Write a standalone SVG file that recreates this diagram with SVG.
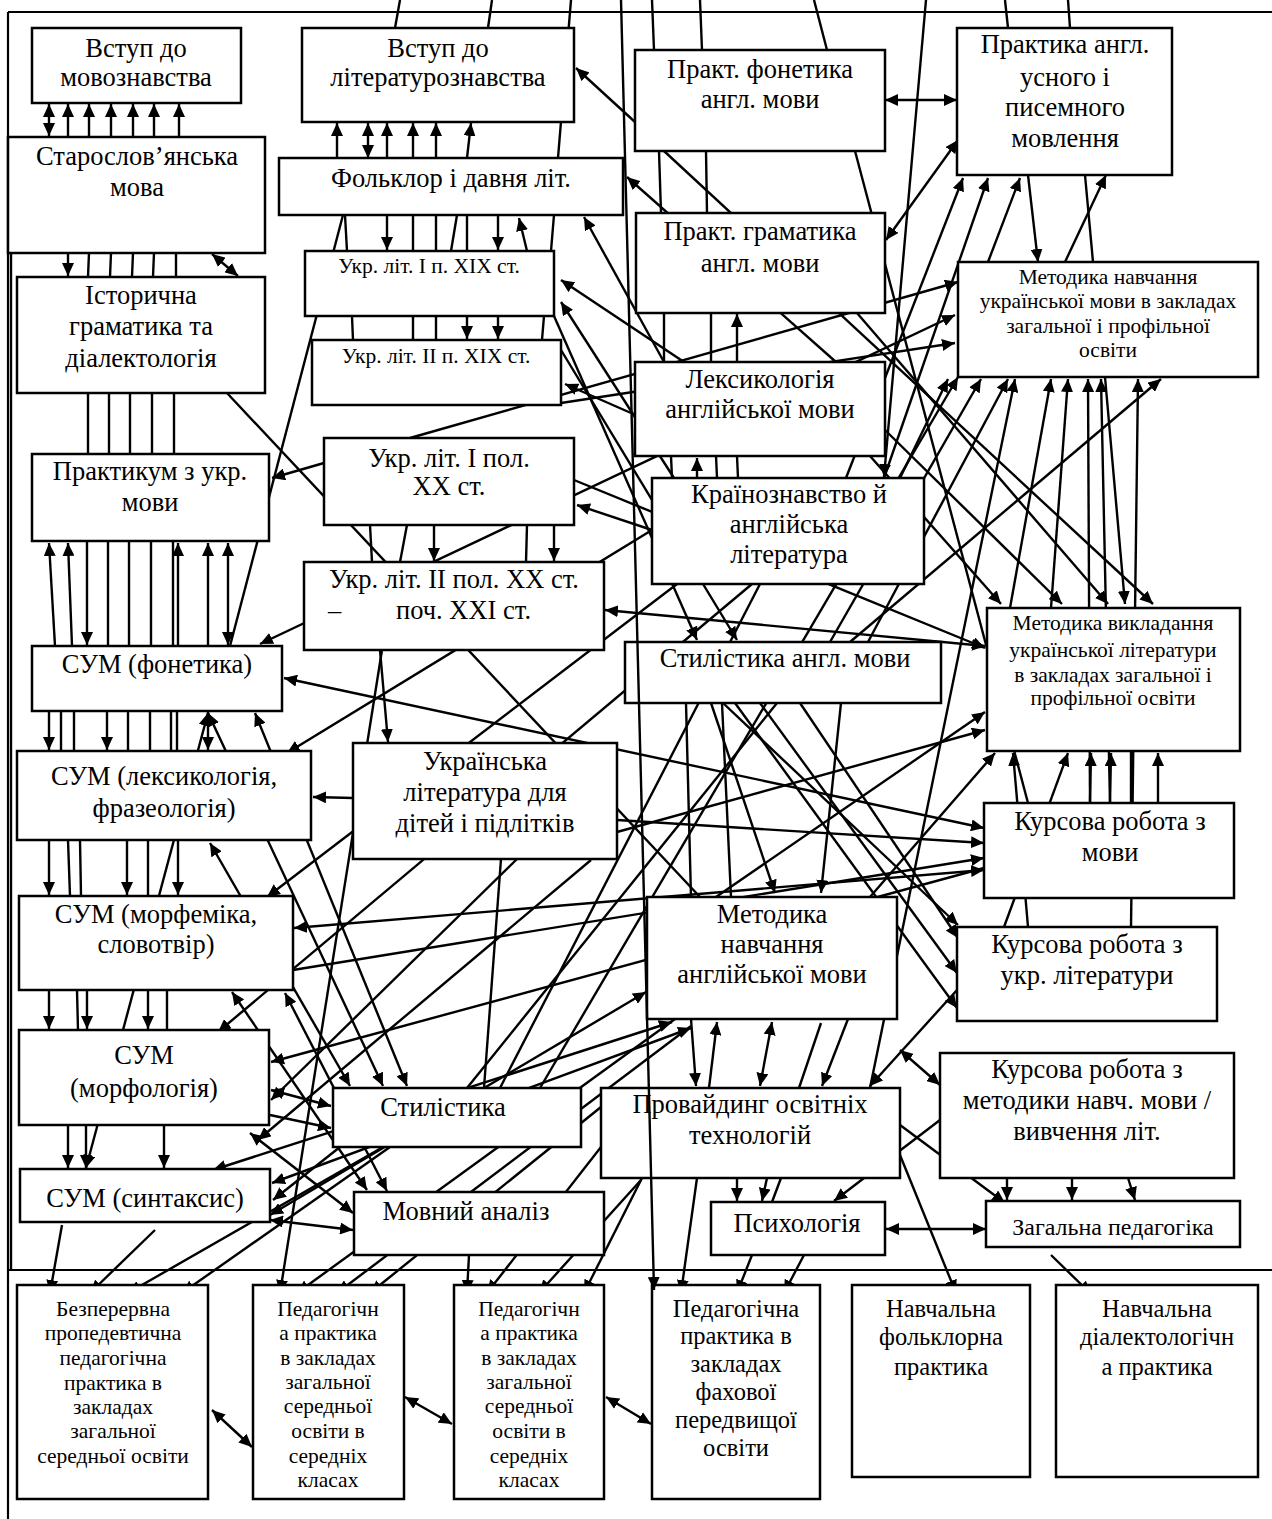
<svg xmlns="http://www.w3.org/2000/svg" width="1272" height="1519" viewBox="0 0 1272 1519">
<style>
.n rect{fill:#fff;stroke:#000;stroke-width:2.5}
text{font-family:"Liberation Serif","Times New Roman","DejaVu Serif",serif;fill:#000;text-anchor:middle}
.t{font-size:26.5px}
.s{font-size:21.5px}
.m{font-size:24.5px}
.g{font-size:24px}
.c line{stroke:#000;stroke-width:2.4;fill:none}
.e{marker-end:url(#ah)}
.b{marker-start:url(#ah);marker-end:url(#ah)}
.f line{stroke:#000;stroke-width:2.2}
</style>
<defs>
<marker id="ah" viewBox="0 0 13 12" refX="13" refY="6" markerWidth="13" markerHeight="12" markerUnits="userSpaceOnUse" orient="auto-start-reverse"><path d="M0,0 L13,6 L0,12 z" fill="#000"/></marker>
</defs>
<rect width="1272" height="1519" fill="#fff"/>
<g id="frame" class="f">
<line x1="8" y1="12" x2="1272" y2="12"/>
<line x1="8" y1="12" x2="8" y2="1519"/>
<line x1="8" y1="1270" x2="1272" y2="1270"/>
</g>
<g id="connectors" class="c">
<line x1="49" y1="104" x2="49" y2="136" class="b"/>
<line x1="68" y1="137" x2="68" y2="104" class="e"/>
<line x1="89" y1="137" x2="89" y2="104" class="e"/>
<line x1="111" y1="137" x2="111" y2="104" class="e"/>
<line x1="133" y1="137" x2="133" y2="104" class="e"/>
<line x1="154" y1="137" x2="154" y2="104" class="e"/>
<line x1="179" y1="137" x2="179" y2="104" class="e"/>
<line x1="68" y1="253" x2="68" y2="276" class="e"/>
<line x1="89" y1="253" x2="88" y2="277"/>
<line x1="111" y1="253" x2="110" y2="277"/>
<line x1="133" y1="253" x2="132" y2="277"/>
<line x1="154" y1="253" x2="153" y2="277"/>
<line x1="176" y1="253" x2="176" y2="277"/>
<line x1="212" y1="254" x2="238" y2="276" class="b"/>
<line x1="88" y1="393" x2="88" y2="454"/>
<line x1="109" y1="393" x2="109" y2="454"/>
<line x1="130" y1="393" x2="130" y2="454"/>
<line x1="152" y1="393" x2="152" y2="454"/>
<line x1="174" y1="393" x2="174" y2="454"/>
<line x1="55" y1="646" x2="49" y2="543" class="e"/>
<line x1="72" y1="646" x2="68" y2="543" class="e"/>
<line x1="87" y1="541" x2="87" y2="645" class="e"/>
<line x1="108" y1="541" x2="108" y2="646"/>
<line x1="129" y1="541" x2="129" y2="646"/>
<line x1="151" y1="541" x2="151" y2="646"/>
<line x1="173" y1="541" x2="173" y2="646"/>
<line x1="178" y1="646" x2="178" y2="543" class="e"/>
<line x1="208" y1="646" x2="208" y2="543" class="e"/>
<line x1="228" y1="543" x2="228" y2="645" class="b"/>
<line x1="49" y1="711" x2="49" y2="750" class="e"/>
<line x1="61" y1="711" x2="61" y2="751"/>
<line x1="74" y1="711" x2="74" y2="751"/>
<line x1="107" y1="711" x2="107" y2="750" class="e"/>
<line x1="128" y1="711" x2="128" y2="751"/>
<line x1="150" y1="711" x2="150" y2="751"/>
<line x1="171" y1="711" x2="171" y2="751"/>
<line x1="177" y1="711" x2="177" y2="751"/>
<line x1="208" y1="711" x2="208" y2="750" class="e"/>
<line x1="49" y1="840" x2="49" y2="895" class="e"/>
<line x1="68" y1="840" x2="70" y2="896"/>
<line x1="80" y1="840" x2="81" y2="896"/>
<line x1="127" y1="840" x2="127" y2="895" class="e"/>
<line x1="148" y1="840" x2="148" y2="896"/>
<line x1="178" y1="840" x2="178" y2="895" class="e"/>
<line x1="49" y1="990" x2="49" y2="1029" class="e"/>
<line x1="77" y1="990" x2="78" y2="1030"/>
<line x1="87" y1="990" x2="87" y2="1029" class="e"/>
<line x1="148" y1="990" x2="148" y2="1029" class="e"/>
<line x1="167" y1="990" x2="167" y2="1030"/>
<line x1="68" y1="1125" x2="68" y2="1168" class="e"/>
<line x1="86" y1="1125" x2="86" y2="1168" class="e"/>
<line x1="164" y1="1125" x2="164" y2="1168" class="e"/>
<line x1="62" y1="1225" x2="50" y2="1293" class="e"/>
<line x1="155" y1="1230" x2="90" y2="1293" class="e"/>
<line x1="11" y1="253" x2="11" y2="1270"/>
<line x1="343" y1="215" x2="230" y2="646"/>
<line x1="324" y1="463" x2="272" y2="478" class="e"/>
<line x1="227" y1="393" x2="700" y2="897"/>
<line x1="955" y1="315" x2="260" y2="644" class="b"/>
<line x1="208" y1="713" x2="86" y2="1168" class="b"/>
<line x1="208" y1="713" x2="383" y2="1086" class="b"/>
<line x1="255" y1="713" x2="407" y2="1086" class="b"/>
<line x1="210" y1="843" x2="350" y2="1086" class="b"/>
<line x1="353" y1="798" x2="313" y2="797" class="e"/>
<line x1="677" y1="584" x2="267" y2="897" class="e"/>
<line x1="652" y1="530" x2="287" y2="753" class="e"/>
<line x1="652" y1="530" x2="577" y2="505" class="e"/>
<line x1="984" y1="870" x2="294" y2="928" class="b"/>
<line x1="232" y1="992" x2="367" y2="1190" class="b"/>
<line x1="285" y1="993" x2="387" y2="1191" class="b"/>
<line x1="752" y1="584" x2="218" y2="1032" class="e"/>
<line x1="984" y1="868" x2="271" y2="1062" class="e"/>
<line x1="270" y1="1215" x2="646" y2="992" class="b"/>
<line x1="213" y1="1170" x2="672" y2="1022" class="b"/>
<line x1="272" y1="1183" x2="691" y2="1028" class="b"/>
<line x1="284" y1="678" x2="984" y2="828" class="b"/>
<line x1="382" y1="650" x2="280" y2="1293" class="e"/>
<line x1="380" y1="650" x2="388" y2="742" class="e"/>
<line x1="605" y1="610" x2="985" y2="646" class="b"/>
<line x1="574" y1="480" x2="985" y2="648" class="e"/>
<line x1="395" y1="28" x2="400" y2="0"/>
<line x1="488" y1="28" x2="492" y2="0"/>
<line x1="558" y1="158" x2="571" y2="0"/>
<line x1="654" y1="50" x2="652" y2="0"/>
<line x1="702" y1="50" x2="700" y2="0"/>
<line x1="827" y1="50" x2="814" y2="0"/>
<line x1="926" y1="0" x2="884" y2="477" class="e"/>
<line x1="1008" y1="28" x2="1005" y2="0"/>
<line x1="1070" y1="28" x2="1068" y2="0"/>
<line x1="337" y1="158" x2="337" y2="123" class="e"/>
<line x1="368" y1="158" x2="368" y2="123" class="b"/>
<line x1="387" y1="158" x2="387" y2="123" class="e"/>
<line x1="413" y1="158" x2="413" y2="123" class="e"/>
<line x1="436" y1="158" x2="436" y2="123" class="e"/>
<line x1="467" y1="158" x2="471" y2="123" class="e"/>
<line x1="635" y1="122" x2="576" y2="68" class="e"/>
<line x1="885" y1="100" x2="957" y2="100" class="b"/>
<line x1="836" y1="362" x2="627" y2="177" class="e"/>
<line x1="527" y1="251" x2="519" y2="218" class="e"/>
<line x1="664" y1="362" x2="584" y2="217" class="e"/>
<line x1="387" y1="215" x2="387" y2="250" class="e"/>
<line x1="498" y1="215" x2="498" y2="250" class="e"/>
<line x1="345" y1="215" x2="347" y2="251"/>
<line x1="413" y1="215" x2="413" y2="251"/>
<line x1="436" y1="215" x2="436" y2="251"/>
<line x1="457" y1="215" x2="451" y2="251"/>
<line x1="467" y1="215" x2="467" y2="251"/>
<line x1="554" y1="215" x2="551" y2="251"/>
<line x1="684" y1="362" x2="561" y2="280" class="e"/>
<line x1="674" y1="478" x2="561" y2="302" class="e"/>
<line x1="352" y1="316" x2="353" y2="340"/>
<line x1="413" y1="316" x2="413" y2="340"/>
<line x1="436" y1="316" x2="436" y2="340"/>
<line x1="467" y1="316" x2="467" y2="339" class="e"/>
<line x1="498" y1="316" x2="498" y2="339" class="e"/>
<line x1="544" y1="316" x2="542" y2="340"/>
<line x1="554" y1="316" x2="697" y2="640" class="e"/>
<line x1="561" y1="350" x2="737" y2="640" class="e"/>
<line x1="410" y1="438" x2="958" y2="282" class="e"/>
<line x1="561" y1="403" x2="955" y2="343" class="e"/>
<line x1="631" y1="413" x2="565" y2="384" class="e"/>
<line x1="370" y1="525" x2="372" y2="562"/>
<line x1="407" y1="525" x2="400" y2="562"/>
<line x1="434" y1="525" x2="434" y2="561" class="e"/>
<line x1="527" y1="525" x2="526" y2="562"/>
<line x1="554" y1="525" x2="554" y2="561" class="e"/>
<line x1="659" y1="151" x2="661" y2="213"/>
<line x1="664" y1="151" x2="1153" y2="604" class="e"/>
<line x1="706" y1="151" x2="707" y2="213"/>
<line x1="855" y1="151" x2="1028" y2="803"/>
<line x1="664" y1="313" x2="664" y2="362"/>
<line x1="711" y1="313" x2="711" y2="362"/>
<line x1="737" y1="362" x2="737" y2="314" class="e"/>
<line x1="697" y1="478" x2="697" y2="458" class="e"/>
<line x1="671" y1="456" x2="672" y2="478"/>
<line x1="716" y1="456" x2="717" y2="478"/>
<line x1="737" y1="456" x2="738" y2="478"/>
<line x1="886" y1="240" x2="958" y2="140" class="b"/>
<line x1="846" y1="478" x2="963" y2="178" class="e"/>
<line x1="884" y1="478" x2="988" y2="178" class="e"/>
<line x1="988" y1="262" x2="1020" y2="178" class="e"/>
<line x1="1028" y1="175" x2="1038" y2="262" class="e"/>
<line x1="1065" y1="262" x2="1106" y2="175" class="e"/>
<line x1="1085" y1="175" x2="1093" y2="262"/>
<line x1="900" y1="478" x2="948" y2="379" class="e"/>
<line x1="830" y1="642" x2="981" y2="379" class="e"/>
<line x1="868" y1="642" x2="1008" y2="379" class="e"/>
<line x1="870" y1="1088" x2="1015" y2="379" class="e"/>
<line x1="1051" y1="608" x2="1068" y2="379" class="e"/>
<line x1="1010" y1="608" x2="1051" y2="379" class="e"/>
<line x1="1090" y1="803" x2="1088" y2="379" class="e"/>
<line x1="1110" y1="803" x2="1101" y2="379" class="e"/>
<line x1="1131" y1="927" x2="1138" y2="379" class="e"/>
<line x1="850" y1="642" x2="1161" y2="379" class="e"/>
<line x1="870" y1="456" x2="1001" y2="604" class="e"/>
<line x1="885" y1="430" x2="1062" y2="604" class="e"/>
<line x1="857" y1="313" x2="1108" y2="604" class="e"/>
<line x1="1105" y1="377" x2="1125" y2="604" class="e"/>
<line x1="716" y1="897" x2="985" y2="712" class="e"/>
<line x1="617" y1="832" x2="985" y2="730" class="e"/>
<line x1="1028" y1="927" x2="1013" y2="753" class="e"/>
<line x1="1004" y1="927" x2="1068" y2="753" class="e"/>
<line x1="1090" y1="803" x2="1091" y2="753" class="e"/>
<line x1="1110" y1="803" x2="1111" y2="753" class="e"/>
<line x1="1131" y1="803" x2="1131" y2="751"/>
<line x1="1158" y1="803" x2="1158" y2="753" class="e"/>
<line x1="870" y1="897" x2="995" y2="753" class="e"/>
<line x1="617" y1="820" x2="984" y2="843" class="e"/>
<line x1="293" y1="970" x2="984" y2="858" class="e"/>
<line x1="760" y1="703" x2="957" y2="973" class="e"/>
<line x1="735" y1="703" x2="957" y2="1008" class="e"/>
<line x1="723" y1="703" x2="958" y2="925" class="e"/>
<line x1="800" y1="703" x2="958" y2="938" class="e"/>
<line x1="957" y1="990" x2="870" y2="1086" class="e"/>
<line x1="900" y1="1050" x2="940" y2="1085" class="b"/>
<line x1="1007" y1="1178" x2="1007" y2="1200" class="e"/>
<line x1="1072" y1="1178" x2="1072" y2="1200" class="e"/>
<line x1="1128" y1="1178" x2="1135" y2="1200" class="e"/>
<line x1="900" y1="1125" x2="1005" y2="1203" class="e"/>
<line x1="886" y1="1229" x2="986" y2="1229" class="b"/>
<line x1="1051" y1="1255" x2="1091" y2="1294" class="e"/>
<line x1="900" y1="1155" x2="956" y2="1293" class="e"/>
<line x1="737" y1="1178" x2="737" y2="1201" class="e"/>
<line x1="767" y1="1178" x2="762" y2="1201" class="e"/>
<line x1="781" y1="1178" x2="772" y2="1202"/>
<line x1="940" y1="1120" x2="834" y2="1201" class="e"/>
<line x1="752" y1="1255" x2="737" y2="1293" class="e"/>
<line x1="804" y1="1255" x2="784" y2="1293" class="e"/>
<line x1="697" y1="1178" x2="681" y2="1293" class="e"/>
<line x1="469" y1="1255" x2="467" y2="1293" class="e"/>
<line x1="601" y1="1147" x2="487" y2="1293" class="e"/>
<line x1="641" y1="1180" x2="539" y2="1293" class="e"/>
<line x1="642" y1="1178" x2="584" y2="1293" class="e"/>
<line x1="675" y1="1019" x2="297" y2="1293" class="e"/>
<line x1="691" y1="1026" x2="337" y2="1293" class="e"/>
<line x1="601" y1="1107" x2="370" y2="1293" class="e"/>
<line x1="383" y1="1147" x2="128" y2="1293" class="e"/>
<line x1="390" y1="1147" x2="182" y2="1293" class="e"/>
<line x1="270" y1="1220" x2="353" y2="1230" class="b"/>
<line x1="250" y1="1133" x2="353" y2="1213" class="b"/>
<line x1="340" y1="1147" x2="273" y2="1200" class="e"/>
<line x1="271" y1="1090" x2="331" y2="1106" class="b"/>
<line x1="270" y1="1115" x2="331" y2="1128" class="e"/>
<line x1="501" y1="859" x2="484" y2="1088"/>
<line x1="517" y1="859" x2="271" y2="1100" class="e"/>
<line x1="591" y1="860" x2="258" y2="1140" class="e"/>
<line x1="686" y1="703" x2="691" y2="897"/>
<line x1="722" y1="703" x2="731" y2="897"/>
<line x1="711" y1="703" x2="775" y2="893" class="e"/>
<line x1="841" y1="703" x2="821" y2="893" class="e"/>
<line x1="709" y1="1088" x2="717" y2="1022" class="e"/>
<line x1="691" y1="1019" x2="696" y2="1086" class="e"/>
<line x1="772" y1="1022" x2="760" y2="1086" class="b"/>
<line x1="848" y1="1019" x2="822" y2="1086" class="e"/>
<line x1="799" y1="1088" x2="821" y2="1023"/>
<line x1="467" y1="1088" x2="777" y2="703"/>
<line x1="500" y1="1088" x2="760" y2="584"/>
<line x1="540" y1="1088" x2="958" y2="377" class="e"/>
<line x1="212" y1="1410" x2="252" y2="1447" class="b"/>
<line x1="405" y1="1397" x2="452" y2="1424" class="b"/>
<line x1="606" y1="1397" x2="651" y2="1424" class="b"/>
</g>
<g id="n1" class="n"><rect x="32" y="28" width="209" height="75"/><text class="t" x="136" y="57">Вступ до</text><text class="t" x="136" y="86">мовознавства</text></g>
<g id="n2" class="n"><rect x="8" y="137" width="257" height="116"/><text class="t" x="137" y="165">Старослов’янська</text><text class="t" x="137" y="196">мова</text></g>
<g id="n3" class="n"><rect x="17" y="277" width="248" height="116"/><text class="t" x="141" y="304">Історична</text><text class="t" x="141" y="335">граматика та</text><text class="t" x="141" y="367">діалектологія</text></g>
<g id="n4" class="n"><rect x="302" y="28" width="272" height="94"/><text class="t" x="438" y="57">Вступ до</text><text class="t" x="438" y="86">літературознавства</text></g>
<g id="n5" class="n"><rect x="279" y="158" width="344" height="57"/><text class="t" x="451" y="187">Фольклор і давня літ.</text></g>
<g id="n6" class="n"><rect x="305" y="251" width="249" height="65"/><text class="s" x="429" y="273">Укр. літ. І п. ХІХ ст.</text></g>
<g id="n7" class="n"><rect x="312" y="340" width="249" height="65"/><text class="s" x="436" y="363">Укр. літ. ІІ п. ХІХ ст.</text></g>
<g id="n8" class="n"><rect x="324" y="438" width="250" height="87"/><text class="t" x="449" y="467">Укр. літ. І пол.</text><text class="t" x="449" y="495">ХХ ст.</text></g>
<g id="n9" class="n"><rect x="304" y="562" width="300" height="88"/><text class="t" x="454" y="588">Укр. літ. ІІ пол. ХХ ст.</text><text class="t" style="text-anchor:start"><tspan x="328" y="619">–</tspan><tspan x="396" y="619">поч. ХХІ ст.</tspan></text></g>
<g id="n10" class="n"><rect x="32" y="454" width="237" height="87"/><text class="t" x="150" y="480">Практикум з укр.</text><text class="t" x="150" y="511">мови</text></g>
<g id="n11" class="n"><rect x="32" y="646" width="250" height="65"/><text class="t" x="157" y="673">СУМ (фонетика)</text></g>
<g id="n12" class="n"><rect x="17" y="751" width="294" height="89"/><text class="t" x="164" y="785">СУМ (лексикологія,</text><text class="t" x="164" y="817">фразеологія)</text></g>
<g id="n13" class="n"><rect x="19" y="896" width="274" height="94"/><text class="t" x="156" y="923">СУМ (морфеміка,</text><text class="t" x="156" y="953">словотвір)</text></g>
<g id="n14" class="n"><rect x="19" y="1030" width="250" height="95"/><text class="t" x="144" y="1064">СУМ</text><text class="t" x="144" y="1097">(морфологія)</text></g>
<g id="n15" class="n"><rect x="20" y="1169" width="250" height="53"/><text class="t" x="145" y="1207">СУМ (синтаксис)</text></g>
<g id="n16" class="n"><rect x="353" y="743" width="264" height="116"/><text class="t" x="485" y="770">Українська</text><text class="t" x="485" y="801">література для</text><text class="t" x="485" y="832">дітей і підлітків</text></g>
<g id="n17" class="n"><rect x="333" y="1088" width="248" height="59"/><text class="t" x="443" y="1116">Стилістика</text></g>
<g id="n18" class="n"><rect x="354" y="1192" width="250" height="63"/><text class="t" x="466" y="1220">Мовний аналіз</text></g>
<g id="n19" class="n"><rect x="635" y="50" width="250" height="101"/><text class="t" x="760" y="78">Практ. фонетика</text><text class="t" x="760" y="108">англ. мови</text></g>
<g id="n20" class="n"><rect x="636" y="213" width="249" height="100"/><text class="t" x="760" y="240">Практ. граматика</text><text class="t" x="760" y="272">англ. мови</text></g>
<g id="n21" class="n"><rect x="957" y="28" width="215" height="147"/><text class="t" x="1065" y="53">Практика англ.</text><text class="t" x="1065" y="86">усного і</text><text class="t" x="1065" y="116">писемного</text><text class="t" x="1065" y="147">мовлення</text></g>
<g id="n22" class="n"><rect x="958" y="262" width="300" height="115"/><text class="s" x="1108" y="284">Методика навчання</text><text class="s" x="1108" y="308">української мови в закладах</text><text class="s" x="1108" y="333">загальної і профільної</text><text class="s" x="1108" y="357">освіти</text></g>
<g id="n23" class="n"><rect x="635" y="362" width="250" height="94"/><text class="t" x="760" y="388">Лексикологія</text><text class="t" x="760" y="418">англійської мови</text></g>
<g id="n24" class="n"><rect x="652" y="478" width="272" height="106"/><text class="t" x="789" y="503">Країнознавство й</text><text class="t" x="789" y="533">англійська</text><text class="t" x="789" y="563">література</text></g>
<g id="n25" class="n"><rect x="625" y="642" width="316" height="61"/><text class="t" x="785" y="667">Стилістика англ. мови</text></g>
<g id="n26" class="n"><rect x="987" y="608" width="253" height="143"/><text class="s" x="1113" y="630">Методика викладання</text><text class="s" x="1113" y="657">української літератури</text><text class="s" x="1113" y="682">в закладах загальної і</text><text class="s" x="1113" y="705">профільної освіти</text></g>
<g id="n27" class="n"><rect x="984" y="803" width="250" height="95"/><text class="t" x="1110" y="830">Курсова робота з</text><text class="t" x="1110" y="861">мови</text></g>
<g id="n28" class="n"><rect x="957" y="927" width="260" height="94"/><text class="t" x="1087" y="953">Курсова робота з</text><text class="t" x="1087" y="984">укр. літератури</text></g>
<g id="n29" class="n"><rect x="940" y="1053" width="294" height="125"/><text class="t" x="1087" y="1078">Курсова робота з</text><text class="t" x="1087" y="1109">методики навч. мови /</text><text class="t" x="1087" y="1140">вивчення літ.</text></g>
<g id="n30" class="n"><rect x="647" y="897" width="250" height="122"/><text class="t" x="772" y="923">Методика</text><text class="t" x="772" y="953">навчання</text><text class="t" x="772" y="983">англійської мови</text></g>
<g id="n31" class="n"><rect x="601" y="1088" width="299" height="90"/><text class="t" x="750" y="1113">Провайдинг освітніх</text><text class="t" x="750" y="1144">технологій</text></g>
<g id="n32" class="n"><rect x="711" y="1202" width="174" height="53"/><text class="t" x="797" y="1232">Психологія</text></g>
<g id="n33" class="n"><rect x="986" y="1201" width="254" height="46"/><text class="g" x="1113" y="1235">Загальна педагогіка</text></g>
<g id="n34" class="n"><rect x="17" y="1285" width="191" height="214"/><text class="s" x="113" y="1316">Безперервна</text><text class="s" x="113" y="1340">пропедевтична</text><text class="s" x="113" y="1365">педагогічна</text><text class="s" x="113" y="1390">практика в</text><text class="s" x="113" y="1414">закладах</text><text class="s" x="113" y="1438">загальної</text><text class="s" x="113" y="1463">середньої освіти</text></g>
<g id="n35" class="n"><rect x="253" y="1285" width="151" height="214"/><text class="s" x="328" y="1316">Педагогічн</text><text class="s" x="328" y="1340">а практика</text><text class="s" x="328" y="1365">в закладах</text><text class="s" x="328" y="1389">загальної</text><text class="s" x="328" y="1413">середньої</text><text class="s" x="328" y="1438">освіти в</text><text class="s" x="328" y="1463">середніх</text><text class="s" x="328" y="1487">класах</text></g>
<g id="n36" class="n"><rect x="454" y="1285" width="150" height="214"/><text class="s" x="529" y="1316">Педагогічн</text><text class="s" x="529" y="1340">а практика</text><text class="s" x="529" y="1365">в закладах</text><text class="s" x="529" y="1389">загальної</text><text class="s" x="529" y="1413">середньої</text><text class="s" x="529" y="1438">освіти в</text><text class="s" x="529" y="1463">середніх</text><text class="s" x="529" y="1487">класах</text></g>
<g id="n37" class="n"><rect x="652" y="1285" width="168" height="214"/><text class="m" x="736" y="1317">Педагогічна</text><text class="m" x="736" y="1344">практика в</text><text class="m" x="736" y="1372">закладах</text><text class="m" x="736" y="1400">фахової</text><text class="m" x="736" y="1428">передвищої</text><text class="m" x="736" y="1456">освіти</text></g>
<g id="n38" class="n"><rect x="852" y="1285" width="178" height="192"/><text class="m" x="941" y="1317">Навчальна</text><text class="m" x="941" y="1345">фольклорна</text><text class="m" x="941" y="1375">практика</text></g>
<g id="n39" class="n"><rect x="1056" y="1285" width="202" height="192"/><text class="m" x="1157" y="1317">Навчальна</text><text class="m" x="1157" y="1345">діалектологічн</text><text class="m" x="1157" y="1375">а практика</text></g>
<g id="connectors-over" class="c">
<line x1="621" y1="0" x2="654" y2="1290" class="e"/>
</g>
</svg>
